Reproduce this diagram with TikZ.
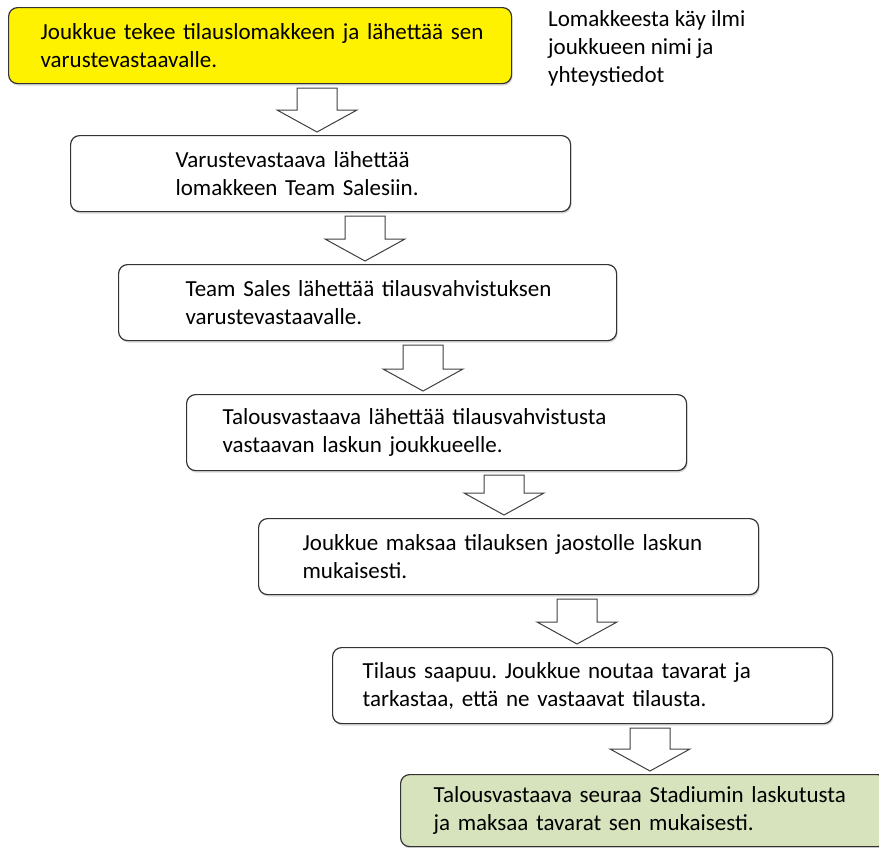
\documentclass[tikz,border=0pt]{standalone}
\usepackage{fontspec}
\setmainfont{Carlito}
\usetikzlibrary{calc,shadows}
\frenchspacing

\tikzset{
  stepbox/.style={draw=black!80, line width=1.2pt, rounded corners=9pt, fill=white,
    anchor=north west, minimum height=76pt, align=left, inner xsep=0pt, text width=500pt,
    font=\fontsize{23}{28}\selectfont,
    drop shadow={shadow xshift=1pt, shadow yshift=-2pt, opacity=.3}},
  textindent/.style={execute at begin node={\leftskip=#1}},
  blockarrow/.style={draw=black!75, line width=1pt, fill=white}
}

\begin{document}
\begin{tikzpicture}[x=1pt,y=-1pt]
        \useasboundingbox (0,0) rectangle (879,847);
        % steps of the order
        \node[stepbox, fill=yellow, text width=503pt, textindent=32pt] (b1) at (8,7)
            {Joukkue tekee tilauslomakkeen ja lähettää sen\\varustevastaavalle.};
        \node[stepbox, textindent=105pt] (b2) at (70,135)
            {Varustevastaava lähettää\\lomakkeen Team Salesiin.};
        \node[stepbox, text width=498pt, textindent=67pt] (b3) at (118,264)
            {Team Sales lähettää tilausvahvistuksen\\varustevastaavalle.};
        \node[stepbox, textindent=36pt] (b4) at (186,394)
            {Talousvastaava lähettää tilausvahvistusta\\vastaavan laskun joukkueelle.};
        \node[stepbox, textindent=44pt] (b5) at (258,518)
            {Joukkue maksaa tilauksen jaostolle laskun\\mukaisesti.};
        \node[stepbox, textindent=30pt] (b6) at (332,647)
            {Tilaus saapuu. Joukkue noutaa tavarat ja\\tarkastaa, että ne vastaavat tilausta.};
        \node[stepbox, fill={rgb,255:red,214;green,227;blue,188}, minimum height=72pt,
            text width=486pt, textindent=33pt] (b7) at (400,774)
            {Talousvastaava seuraa Stadiumin laskutusta\\ja maksaa tavarat sen mukaisesti.};
        % side note
        \node[anchor=north west, inner sep=0pt, align=left, font=\fontsize{23}{28}\selectfont]
            (note) at (548,10) {Lomakkeesta käy ilmi\\joukkueen nimi ja\\yhteystiedot};
        % block arrows between the steps
        \foreach \i/\j/\ax in {1/2/317, 2/3/365, 3/4/423, 4/5/504, 5/6/577, 6/7/650}
            \draw[blockarrow] let \p1=(b\i.south), \p2=(b\j.north) in
                ({(\ax-20)*1pt},{\y1-4pt}) -- ({(\ax+20)*1pt},{\y1-4pt})
                -- ({(\ax+20)*1pt},{\y2+25pt}) -- ({(\ax+40)*1pt},{\y2+25pt})
                -- ({\ax*1pt},{\y2+3pt}) -- ({(\ax-40)*1pt},{\y2+25pt})
                -- ({(\ax-20)*1pt},{\y2+25pt}) -- cycle;
\end{tikzpicture}
\end{document}
